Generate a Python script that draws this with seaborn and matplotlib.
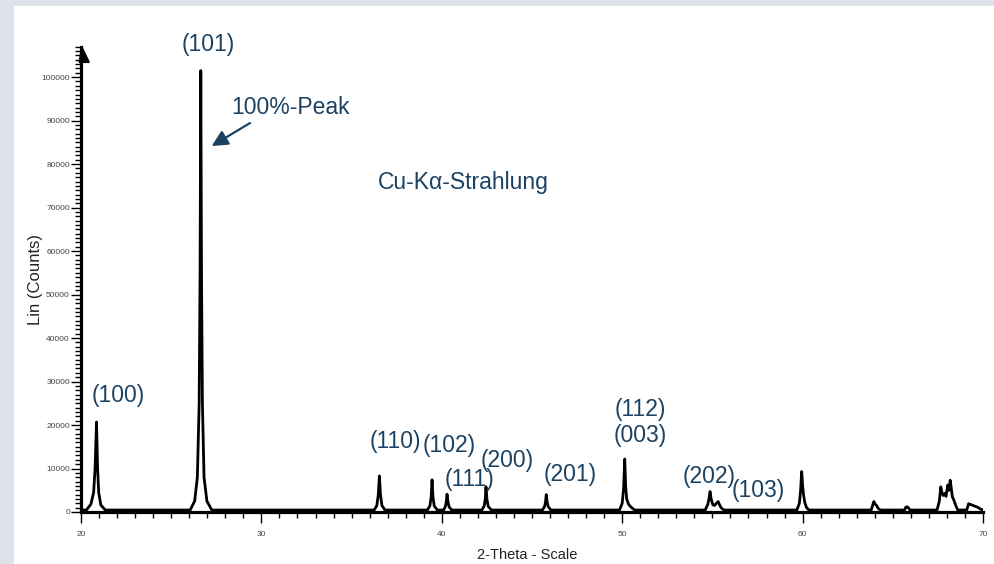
import matplotlib
matplotlib.use('Agg')
import matplotlib.pyplot as plt
from matplotlib.patches import Rectangle, Polygon
from matplotlib.ticker import MultipleLocator, StrMethodFormatter
import pandas as pd
import seaborn as sns

# diffractogram, peak by peak (2-theta in degrees, counts)
two_theta = [
    20.00, 20.30, 20.55, 20.70, 20.78, 20.86, 20.92, 20.98, 21.10, 21.35,
    26.05, 26.30, 26.45, 26.55, 26.60, 26.64, 26.68, 26.73, 26.82, 26.98, 27.25,
    36.25, 36.40, 36.48, 36.54, 36.60, 36.68, 36.85,
    39.20, 39.34, 39.41, 39.46, 39.51, 39.58, 39.75,
    40.10, 40.20, 40.25, 40.29, 40.34, 40.40, 40.55,
    42.22, 42.35, 42.41, 42.45, 42.50, 42.57, 42.75,
    45.58, 45.70, 45.75, 45.79, 45.84, 45.90, 46.05,
    49.85, 50.00, 50.08, 50.14, 50.19, 50.25, 50.35, 50.45, 50.55, 50.70,
    54.60, 54.75, 54.82, 54.87, 54.93, 55.02, 55.12, 55.20, 55.32, 55.40, 55.50, 55.65,
    59.68, 59.82, 59.89, 59.95, 60.00, 60.05, 60.12, 60.22, 60.35,
    63.80, 63.88, 63.95, 64.02, 64.10, 64.18, 64.30,
    65.65, 65.72, 65.80, 65.88, 65.95,
    67.45, 67.58, 67.66, 67.74, 67.80, 67.88, 67.95, 68.05, 68.12, 68.18, 68.24,
    68.30, 68.38, 68.48, 68.60,
    69.10, 69.20, 69.45, 69.70, 69.85, 70.00,
]
counts = [
    450, 450, 1800, 4500, 10000, 20700, 10000, 4500, 1600, 450,
    450, 2500, 8000, 25000, 55000, 101500, 55000, 25000, 8000, 2500, 450,
    450, 1500, 4000, 8300, 4000, 1500, 450,
    450, 1400, 3500, 7400, 3500, 1400, 450,
    450, 1300, 2400, 4100, 2400, 1200, 450,
    450, 1400, 3000, 5800, 3000, 1300, 450,
    450, 1300, 2300, 4000, 2300, 1200, 450,
    450, 2000, 5500, 12200, 6000, 3000, 1800, 1300, 900, 450,
    450, 1800, 3300, 4700, 3000, 1700, 1500, 1900, 2400, 1600, 900, 450,
    450, 2000, 5000, 9300, 6000, 4000, 2200, 1000, 450,
    450, 1500, 2400, 1800, 1500, 900, 450,
    450, 1100, 1200, 900, 450,
    450, 2500, 5800, 4200, 3800, 4300, 3600, 6200, 5000, 7300, 5500,
    3500, 2800, 1600, 450,
    450, 1900, 1500, 1100, 700, 450,
]

# reflex labels (hkl) and where they sit
hkl_labels = ['(100)', '(101)', '(110)', '(102)', '(111)', '(200)', '(201)',
              '(112)', '(003)', '(202)', '(103)']
hkl_x = [22.05, 27.08, 37.42, 40.39, 41.52, 43.64, 47.12, 51.01, 51.01, 54.80, 57.53]
hkl_y = [26900, 107400, 16100, 15400, 7360, 11730, 8510, 23680, 17700, 8120, 4940]

text_color = '#1b4263'

sns.set_style('ticks')
plt.rcParams['font.family'] = ['Liberation Sans', 'DejaVu Sans']

df = pd.DataFrame({'two_theta': two_theta, 'counts': counts})

fig = plt.figure(figsize=(9.94, 5.64), dpi=100)
fig.patch.set_facecolor('#dce3ea')
fig.add_artist(Rectangle((14 / 994, 0), 1, 1 - 6 / 564, transform=fig.transFigure,
                         facecolor='white', edgecolor='none', zorder=0))

ax = fig.add_axes([81 / 994, 1 - 512 / 564, 902 / 994, (512 - 46.7) / 564])
ax.set_facecolor('white')

sns.lineplot(data=df, x='two_theta', y='counts', ax=ax, color='black', lw=2.0,
             estimator=None, sort=False)

ax.set_xlim(20, 70)
ax.set_ylim(0, 107000)
sns.despine(ax=ax)
for side in ['left', 'bottom']:
    ax.spines[side].set_linewidth(2.3)
    ax.spines[side].set_color('black')

ax.xaxis.set_major_locator(MultipleLocator(10))
ax.xaxis.set_minor_locator(MultipleLocator(1))
ax.yaxis.set_major_locator(MultipleLocator(10000))
ax.yaxis.set_minor_locator(MultipleLocator(1000))
ax.yaxis.set_major_formatter(StrMethodFormatter('{x:.0f}'))
ax.xaxis.set_major_formatter(StrMethodFormatter('{x:.0f}'))

ax.tick_params(axis='y', which='major', length=7, width=1, labelsize=6, pad=1,
               colors='black', labelcolor='#444444')
ax.tick_params(axis='y', which='minor', length=4, width=1, colors='black')
ax.tick_params(axis='x', which='major', length=8, width=1, labelsize=6, pad=6,
               colors='black', labelcolor='#444444')
ax.tick_params(axis='x', which='minor', length=4, width=1, colors='black')

# arrow head on top of the y axis
ax.add_patch(Polygon([(19.9, 103400), (20.46, 103400), (20.04, 107000)],
                     closed=True, facecolor='black', edgecolor='black',
                     clip_on=False, zorder=5))

ax.set_ylabel('Lin (Counts)', fontsize=12, color='#222222')
ax.yaxis.set_label_coords(-0.042, 0.5)
ax.set_xlabel('2-Theta - Scale', fontsize=10.5, color='#222222')
ax.xaxis.set_label_coords(0.495, -0.078)

for lab, x, y in zip(hkl_labels, hkl_x, hkl_y):
    ax.text(x, y, lab, ha='center', va='center', fontsize=16.5,
            color=text_color, clip_on=False)

ax.text(28.35, 91520, '100%-Peak', ha='left', va='baseline', fontsize=16.5,
        color=text_color)
ax.annotate('', xy=(27.245, 84160), xytext=(29.37, 89450),
            arrowprops=dict(arrowstyle='-|>', color=text_color, lw=1.6,
                            mutation_scale=24, shrinkA=0, shrinkB=0))
ax.text(36.46, 74200, 'Cu-Kα-Strahlung', ha='left', va='baseline', fontsize=16.5,
        color=text_color)

fig.savefig('out.png', dpi=100)
